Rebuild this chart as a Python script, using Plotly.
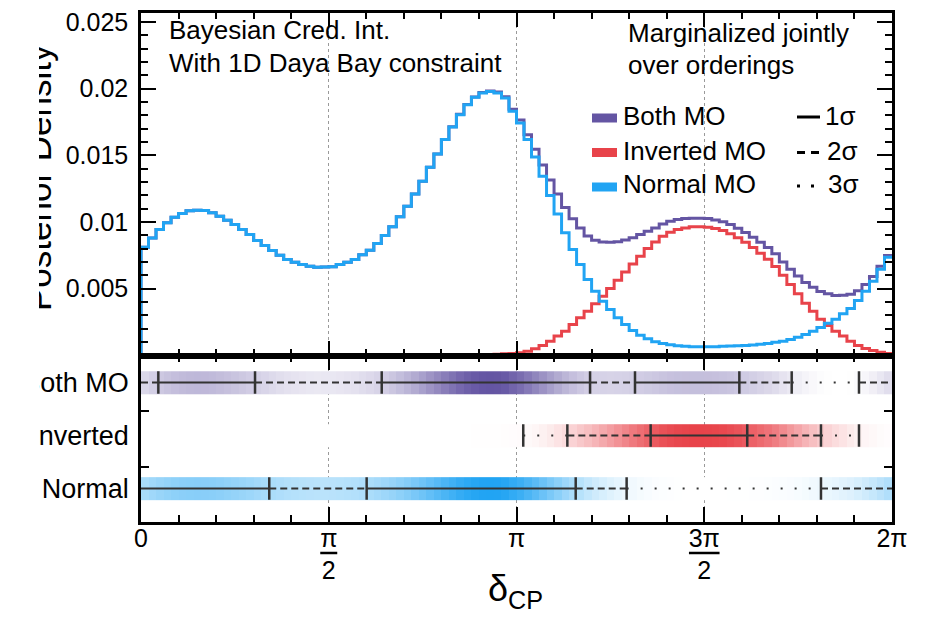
import numpy as np
import plotly.graph_objects as go

PI = np.pi
TWO_PI = 2 * np.pi
N_BINS = 100
bin_edges = np.linspace(0.0, TWO_PI, N_BINS + 1)

# ---------------- data (posterior density per bin, 100 bins over [0, 2pi]) ----------------
normal_mo = [
    0.00810, 0.00880, 0.00943, 0.00993, 0.01035, 0.01063, 0.01083, 0.01088, 0.01085, 0.01068,
    0.01043, 0.01013, 0.00980, 0.00943, 0.00905, 0.00860, 0.00823, 0.00785, 0.00750, 0.00718,
    0.00698, 0.00680, 0.00668, 0.00660, 0.00662, 0.00663, 0.00680, 0.00698, 0.00718, 0.00753,
    0.00788, 0.00838, 0.00898, 0.00963, 0.01038, 0.01118, 0.01210, 0.01305, 0.01410, 0.01510,
    0.01618, 0.01713, 0.01805, 0.01880, 0.01935, 0.01968, 0.01978, 0.01968, 0.01930, 0.01830,
    0.01743, 0.01618, 0.01488, 0.01343, 0.01198, 0.01060, 0.00918, 0.00793, 0.00680, 0.00568,
    0.00480, 0.00405, 0.00343, 0.00280, 0.00230, 0.00185, 0.00150, 0.00123, 0.00100, 0.00088,
    0.00078, 0.00070, 0.00066, 0.00064, 0.00063, 0.00063, 0.00064, 0.00066, 0.00068, 0.00070,
    0.00073, 0.00077, 0.00082, 0.00088, 0.00096, 0.00105, 0.00118, 0.00135, 0.00155, 0.00180,
    0.00208, 0.00240, 0.00270, 0.00310, 0.00350, 0.00410, 0.00480, 0.00555, 0.00645, 0.00735,
]

inverted_mo = [
    0.0, 0.0, 0.0, 0.0, 0.0, 0.0, 0.0, 0.0, 0.0, 0.0,
    0.0, 0.0, 0.0, 0.0, 0.0, 0.0, 0.0, 0.0, 0.0, 0.0,
    0.0, 0.0, 0.0, 0.0, 0.0, 0.0, 0.0, 0.0, 0.0, 0.0,
    0.0, 0.0, 0.0, 0.0, 0.0, 0.0, 0.0, 0.0, 0.0, 0.0,
    0.00001, 0.00001, 0.00002, 0.00002, 0.00003, 0.00004, 0.00005, 0.00007, 0.00010, 0.00013,
    0.00018, 0.00030, 0.00048, 0.00073, 0.00105, 0.00143, 0.00180, 0.00230, 0.00280, 0.00330,
    0.00385, 0.00443, 0.00500, 0.00563, 0.00625, 0.00685, 0.00743, 0.00800, 0.00850, 0.00893,
    0.00923, 0.00943, 0.00955, 0.00963, 0.00963, 0.00960, 0.00950, 0.00935, 0.00912, 0.00882,
    0.00848, 0.00808, 0.00765, 0.00720, 0.00665, 0.00600, 0.00530, 0.00460, 0.00390, 0.00330,
    0.00270, 0.00223, 0.00180, 0.00143, 0.00105, 0.00073, 0.00050, 0.00035, 0.00022, 0.00013,
]

both_mo = [
    0.00810, 0.00880, 0.00943, 0.00993, 0.01035, 0.01063, 0.01083, 0.01088, 0.01085, 0.01068,
    0.01043, 0.01013, 0.00980, 0.00943, 0.00905, 0.00860, 0.00823, 0.00785, 0.00750, 0.00718,
    0.00698, 0.00680, 0.00668, 0.00660, 0.00662, 0.00663, 0.00680, 0.00698, 0.00718, 0.00753,
    0.00788, 0.00838, 0.00898, 0.00963, 0.01038, 0.01118, 0.01210, 0.01305, 0.01410, 0.01510,
    0.01619, 0.01714, 0.01807, 0.01882, 0.01938, 0.01972, 0.01983, 0.01975, 0.01940, 0.01845,
    0.01765, 0.01655, 0.01545, 0.01428, 0.01315, 0.01210, 0.01108, 0.01023, 0.00955, 0.00895,
    0.00863, 0.00850, 0.00848, 0.00852, 0.00865, 0.00882, 0.00905, 0.00930, 0.00955, 0.00985,
    0.01005, 0.01018, 0.01025, 0.01028, 0.01028, 0.01025, 0.01015, 0.01002, 0.00980, 0.00952,
    0.00921, 0.00885, 0.00847, 0.00808, 0.00761, 0.00700, 0.00645, 0.00595, 0.00545, 0.00510,
    0.00478, 0.00460, 0.00448, 0.00450, 0.00458, 0.00483, 0.00530, 0.00590, 0.00667, 0.00748,
]

# Highest-posterior-density credible intervals (radians)
both_1sigma = [[0.145, 0.954], [2.014, 3.757], [4.133, 5.006]]
both_2sigma = [[0.0, 5.444], [6.007, TWO_PI]]
both_3sigma = [[0.0, TWO_PI]]
inv_1sigma = [[4.264, 5.072]]
inv_2sigma = [[3.567, 5.689]]
inv_3sigma = [[3.198, 6.007]]
norm_1sigma = [[0.0, 1.073], [1.888, 3.637]]
norm_2sigma = [[0.0, 4.063], [5.689, TWO_PI]]
norm_3sigma = [[0.0, TWO_PI]]

series_names = ["Both MO", "Inverted MO", "Normal MO"]
row_labels = ["Normal", "Inverted", "Both MO"]
sigma_labels = ["1σ", "2σ", "3σ"]
x_tick_vals = [0.0, PI / 2, PI, 3 * PI / 2, TWO_PI]
x_tick_text = ["0", "π<br>2", "π", "3π<br>2", "2π"]
y_tick_vals = [0.005, 0.010, 0.015, 0.020, 0.025]
y_tick_text = ["0.005", "0.01", "0.015", "0.02", "0.025"]

# ---------------- style / layout ----------------
C_BOTH = "#6455A3"
C_INV = "#E8434A"
C_NORM = "#21A4F3"
C_INT = "#333333"
FONT = "Liberation Sans, Arial, Helvetica, sans-serif"

W, H = 935, 620


def fx(p):
    return p / W


def fy(p):
    return (H - p) / H


X_L, X_R = 141.0, 892.0
Y_TOP, Y_MID, Y_BOT = 12.7, 355.7, 522.0
Y_RANGE = [-0.00004, 0.0257]
ROW_RANGE = [-0.634, 2.507]
BAND_HALF = 0.213

fig = go.Figure()

# top panel: step histograms
for vals, color in [(both_mo, C_BOTH), (inverted_mo, C_INV), (normal_mo, C_NORM)]:
    xs = [0.0] + list(bin_edges)
    ys = [0.0] + list(vals) + [vals[-1]]
    fig.add_trace(go.Scatter(x=xs, y=ys, mode="lines",
                             line=dict(color=color, width=3, shape="hv"),
                             xaxis="x", yaxis="y", showlegend=False, hoverinfo="skip"))

# bottom panel: density bands + credible intervals
rows = [(normal_mo, C_NORM, [norm_1sigma, norm_2sigma, norm_3sigma]),
        (inverted_mo, C_INV, [inv_1sigma, inv_2sigma, inv_3sigma]),
        (both_mo, C_BOTH, [both_1sigma, both_2sigma, both_3sigma])]
DASHES = {1: "solid", 2: "7px,4px", 3: "2px,12px"}

for r, (vals, color, levels) in enumerate(rows):
    fig.add_trace(go.Heatmap(x=bin_edges, y=[r - BAND_HALF, r + BAND_HALF], z=[vals],
                             zmin=min(vals), zmax=max(vals),
                             colorscale=[[0, "white"], [1, color]], showscale=False,
                             xaxis="x2", yaxis="y2", hoverinfo="skip"))

for r, (vals, color, levels) in enumerate(rows):
    ends = {e for lv in levels for iv in lv for e in iv}
    pts = sorted(ends | {0.0, TWO_PI})
    segs = {1: [], 2: [], 3: []}
    for a, b in zip(pts[:-1], pts[1:]):
        m = 0.5 * (a + b)
        for k, ivs in enumerate(levels, start=1):
            if any(lo <= m <= hi for lo, hi in ivs):
                segs[k] += [a, b, None]
                break
    for k, xs in segs.items():
        if xs:
            fig.add_trace(go.Scatter(x=xs, y=[None if v is None else r for v in xs],
                                     mode="lines", line=dict(color=C_INT, width=2, dash=DASHES[k]),
                                     xaxis="x2", yaxis="y2", showlegend=False, hoverinfo="skip"))
    tick_x = sorted(e for e in ends if 0.0 < e < TWO_PI)
    fig.add_trace(go.Scatter(x=tick_x, y=[r] * len(tick_x), mode="markers",
                             marker=dict(symbol="line-ns", size=16, line=dict(color=C_INT, width=2.5)),
                             xaxis="x2", yaxis="y2", showlegend=False, hoverinfo="skip"))

# dummy trace for title axis
fig.add_trace(go.Scatter(x=[None], y=[None], xaxis="x", yaxis="y3", showlegend=False, hoverinfo="skip"))

frame = dict(showline=True, linecolor="black", linewidth=2.5, mirror="ticks",
             tickcolor="black", tickwidth=1.5, zeroline=False, automargin=False)
x_minor = dict(tickvals=[k * PI / 10 for k in range(1, 20) if k % 5], ticks="inside",
               ticklen=7, tickwidth=1.5, tickcolor="black", showgrid=False)
x_common = dict(range=[0, TWO_PI], tickmode="array", tickvals=x_tick_vals, ticks="inside", ticklen=15,
                showgrid=True, gridcolor="#9a9a9a", griddash="dot", gridwidth=1, minor=x_minor,
                domain=[fx(X_L), fx(X_R)], **frame)

fig.update_layout(
    width=W, height=H, autosize=False, margin=dict(l=0, r=0, t=0, b=0, autoexpand=False),
    paper_bgcolor="white", plot_bgcolor="white",
    font=dict(family=FONT, color="black", size=25),
    showlegend=False,
    xaxis=dict(anchor="y", showticklabels=False, **x_common),
    xaxis2=dict(anchor="y2", matches="x", ticktext=x_tick_text, showticklabels=True,
                tickfont=dict(size=25), ticklabelstandoff=-8, **x_common),
    yaxis=dict(domain=[fy(Y_MID), fy(Y_TOP)], anchor="x", range=Y_RANGE,
               tickmode="array", tickvals=y_tick_vals, ticktext=y_tick_text,
               ticks="inside", ticklen=15, showgrid=False, tickfont=dict(size=25),
               ticklabelstandoff=5,
               minor=dict(tickvals=[k * 0.001 for k in range(1, 26) if k % 5], ticks="inside",
                          ticklen=7, tickwidth=1.5, tickcolor="black", showgrid=False),
               **frame),
    yaxis2=dict(domain=[fy(Y_BOT), fy(Y_MID)], anchor="x2", range=ROW_RANGE,
                tickmode="array", tickvals=[0, 1, 2], ticktext=row_labels, ticks="",
                showgrid=False, tickfont=dict(size=27), ticklabelstandoff=4,
                minor=dict(tickvals=[0.41, 1.46], ticks="inside", ticklen=8, tickwidth=1.5,
                           tickcolor="black", showgrid=False),
                **frame),
    yaxis3=dict(overlaying="y", anchor="free", position=fx(58), side="left", range=Y_RANGE,
                tickmode="array", tickvals=[0.01292], ticktext=["Posterior Density"],
                tickangle=-90, ticks="", showline=False, showgrid=False, zeroline=False,
                automargin=False, tickfont=dict(size=35)),
)

shapes = []
# clip strip on the left edge
shapes.append(dict(type="rect", xref="paper", yref="paper", x0=0, x1=fx(39), y0=0, y1=1,
                   fillcolor="white", line=dict(width=0), layer="above"))
# fraction bars for pi/2 and 3pi/2 tick labels
for xc, half in [(PI / 2, 8.5), (3 * PI / 2, 15.3)]:
    d = half / (X_R - X_L) * TWO_PI
    shapes.append(dict(type="line", xref="x2", yref="paper", x0=xc - d, x1=xc + d,
                       y0=fy(553), y1=fy(553), line=dict(color="black", width=2.5)))
# legend swatches and sigma line samples
leg_text_y = [116, 151, 184]
leg_sw_y = [118, 152.5, 187]
leg_line_y = [117, 152.5, 186]
for yy, col in zip(leg_sw_y, [C_BOTH, C_INV, C_NORM]):
    shapes.append(dict(type="rect", xref="paper", yref="paper", x0=fx(592), x1=fx(617),
                       y0=fy(yy + 4.5), y1=fy(yy - 4.5), fillcolor=col, line=dict(width=0)))
for yy, dash in zip(leg_line_y, ["solid", "8px,6px", "3px,11px"]):
    shapes.append(dict(type="line", xref="paper", yref="paper", x0=fx(797), x1=fx(820),
                       y0=fy(yy), y1=fy(yy), line=dict(color="black", width=3, dash=dash)))
fig.update_layout(shapes=shapes)

ann = []


def add_text(txt, x, y, size=26, xanchor="left"):
    ann.append(dict(text=txt, x=fx(x), y=fy(y), xref="paper", yref="paper", showarrow=False,
                    xanchor=xanchor, yanchor="middle", font=dict(size=size, family=FONT, color="black")))


add_text("Bayesian Cred. Int.", 167, 30)
add_text("With 1D Daya Bay constraint", 167, 63)
add_text("Marginalized jointly", 626, 33)
add_text("over orderings", 626, 65)
for name, yy in zip(series_names, leg_text_y):
    add_text(name, 621, yy, size=26)
for s, yy, xx in zip(sigma_labels, leg_text_y, [823, 825, 826]):
    add_text(s, xx, yy, size=26)
add_text("δ<sub>CP</sub>", 486, 591, size=36)
fig.update_layout(annotations=ann)

fig.write_html("out.html",
               config={"displayModeBar": False, "responsive": False},
               post_script="document.body.style.margin='0px';document.body.style.overflow='hidden';")
